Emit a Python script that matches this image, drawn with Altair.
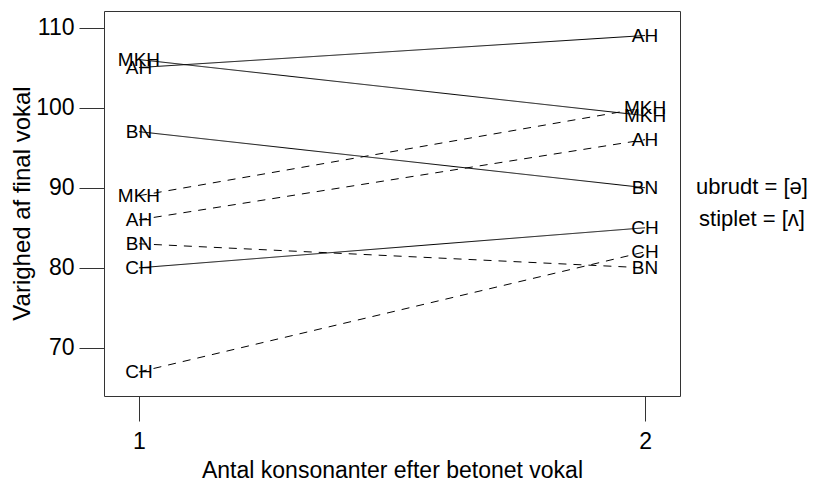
import altair as alt
import pandas as pd

speakers = ["AH", "BN", "CH", "MKH"]
# solid line = [ə], dashed line = [ʌ]
schwa_1 = [105, 97, 80, 106]
schwa_2 = [109, 90, 85, 99]
wedge_1 = [86, 83, 67, 89]
wedge_2 = [96, 80, 82, 100]
x_ticks = [1, 2]
y_ticks = [70, 80, 90, 100, 110]
legend_lines = ["ubrudt = [ə]", "stiplet = [ʌ]"]

rows = []
for i, s in enumerate(speakers):
    rows.append({"speaker": s, "vowel": "ə", "n": 1, "dur": schwa_1[i]})
    rows.append({"speaker": s, "vowel": "ə", "n": 2, "dur": schwa_2[i]})
    rows.append({"speaker": s, "vowel": "ʌ", "n": 1, "dur": wedge_1[i]})
    rows.append({"speaker": s, "vowel": "ʌ", "n": 2, "dur": wedge_2[i]})
df = pd.DataFrame(rows)
df["grp"] = df["speaker"] + "_" + df["vowel"]

FONT = "Liberation Sans"

xscale = alt.Scale(domain=[0.931, 2.069], nice=False, zero=False)
yscale = alt.Scale(domain=[64.0, 112.06], nice=False, zero=False)

x_enc = alt.X("n:Q", scale=xscale,
              axis=alt.Axis(values=x_ticks, format="d", title="Antal konsonanter efter betonet vokal",
                            titleX=288, titleY=81, titleBaseline="alphabetic", titleAlign="center",
                            titleFontSize=23))
y_enc = alt.Y("dur:Q", scale=yscale,
              axis=alt.Axis(values=y_ticks, format="d", title="Varighed af final vokal",
                            titleX=-82, titleY=192, titleBaseline="middle", titleAlign="center",
                            titleAngle=270, titleFontSize=24))

lines = alt.Chart(df).mark_line(color="black", strokeWidth=1, clip=False).encode(
    x=x_enc, y=y_enc,
    detail="grp:N",
    strokeDash=alt.StrokeDash("vowel:N", scale=alt.Scale(domain=["ə", "ʌ"], range=[[1, 0], [8, 7]]),
                              legend=None),
)

labels = alt.Chart(df).mark_text(font=FONT, fontSize=19, color="black", baseline="middle",
                                 align="center").encode(
    x="n:Q", y="dur:Q", text="speaker:N"
)

leg_df = pd.DataFrame({"t": legend_lines, "i": [0, 1]})
legend1 = alt.Chart(leg_df).transform_filter("datum.i == 0").mark_text(
    font=FONT, fontSize=22, color="black", baseline="middle", align="center"
).encode(x=alt.value(648), y=alt.value(176), text="t:N")
legend2 = alt.Chart(leg_df).transform_filter("datum.i == 1").mark_text(
    font=FONT, fontSize=22, color="black", baseline="middle", align="center"
).encode(x=alt.value(648), y=alt.value(208), text="t:N")

chart = alt.layer(lines, labels, legend1, legend2).properties(
    width=576, height=385,
    autosize=alt.AutoSizeParams(type="none"),
    padding={"left": 96, "top": 3, "right": 130, "bottom": 84},
).configure_view(
    stroke="#333333", strokeWidth=1
).configure_axis(
    domain=False, grid=False, tickColor="#333333", tickSize=25, tickWidth=1,
    labelFont=FONT, labelFontSize=23, labelColor="black",
    titleFont=FONT, titleColor="black", titleFontWeight="normal",
).configure_axisX(labelPadding=9).configure_axisY(labelPadding=5)

chart.save("out.html", embed_options={"renderer": "svg", "actions": False})
